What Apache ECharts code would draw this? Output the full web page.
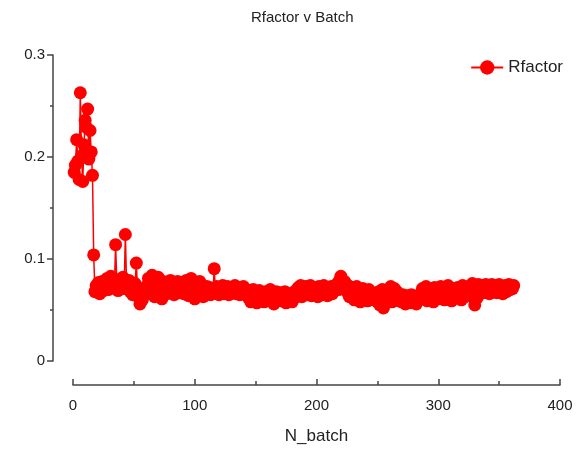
<!DOCTYPE html>
<html>
<head>
<meta charset="utf-8">
<title>Rfactor v Batch</title>
<script src="https://cdn.jsdelivr.net/npm/echarts@6/dist/echarts.min.js"></script>
<style>
  html, body { margin: 0; padding: 0; background: #fff; }
  #chart { width: 578px; height: 450px; }
</style>
</head>
<body>
<div id="chart"></div>
<script>
// R factor per batch, batch 1 onwards
const rfactor = [
  // 1-17: early batches, high and scattered
  0.185, 0.192, 0.217, 0.196, 0.178, 0.263, 0.201, 0.176, 0.212, 0.236,
  0.229, 0.247, 0.198, 0.226, 0.205, 0.182, 0.104,
  // 18-45
  0.068, 0.074, 0.071, 0.077, 0.066, 0.072, 0.078, 0.069, 0.073,
  0.075, 0.081, 0.070, 0.077, 0.083, 0.072, 0.079, 0.074, 0.114, 0.076,
  0.069, 0.080, 0.073, 0.078, 0.082, 0.071, 0.124, 0.077, 0.074,
  // 46-75
  0.079, 0.068, 0.073, 0.065, 0.071, 0.076, 0.096, 0.070, 0.062, 0.056,
  0.064, 0.060, 0.068, 0.072, 0.066,
  0.074, 0.081, 0.068, 0.077, 0.084, 0.071, 0.063, 0.079, 0.073, 0.082,
  0.067, 0.075, 0.061, 0.078, 0.070,
  // 76-107
  0.072, 0.066, 0.077, 0.070, 0.079, 0.068, 0.074, 0.065, 0.076, 0.071,
  0.078, 0.067, 0.073, 0.069, 0.076, 0.066, 0.074,
  0.079, 0.070, 0.064, 0.075, 0.081, 0.068, 0.073, 0.061, 0.077, 0.071,
  0.066, 0.078, 0.069, 0.074, 0.063,
  // 108-142
  0.070, 0.066, 0.073, 0.068, 0.072, 0.065, 0.071, 0.069, 0.0905, 0.067,
  0.073, 0.070, 0.065, 0.072, 0.068, 0.074, 0.066, 0.071, 0.069, 0.073,
  0.065, 0.070, 0.067, 0.072, 0.068, 0.074, 0.066, 0.071, 0.069, 0.065,
  0.072, 0.068, 0.073, 0.066, 0.070,
  // 143-182
  0.067, 0.062, 0.069, 0.058, 0.065, 0.070, 0.061, 0.066, 0.057, 0.064,
  0.069, 0.060, 0.067, 0.063, 0.058, 0.068, 0.062, 0.065, 0.059, 0.070,
  0.061, 0.066, 0.056, 0.064, 0.068, 0.060, 0.063, 0.067,
  0.059, 0.065, 0.061, 0.068, 0.057, 0.063, 0.066, 0.060, 0.064, 0.058,
  0.067, 0.062,
  // 183-224
  0.069, 0.064, 0.072, 0.067, 0.074, 0.063, 0.070, 0.066, 0.073, 0.068,
  0.065, 0.071, 0.074, 0.064, 0.069, 0.072, 0.066, 0.070, 0.063, 0.073,
  0.068, 0.071, 0.065, 0.074, 0.067, 0.070, 0.064, 0.072, 0.068, 0.073,
  0.066, 0.071, 0.069,
  0.072, 0.076, 0.070, 0.079, 0.083, 0.077, 0.073, 0.078, 0.071,
  // 225-268
  0.068, 0.074, 0.063, 0.070, 0.066, 0.072, 0.060, 0.067, 0.073, 0.064,
  0.069, 0.058, 0.066, 0.071, 0.062, 0.068, 0.065, 0.059, 0.070, 0.063,
  0.067, 0.061, 0.066, 0.060,
  0.064, 0.058, 0.068, 0.055, 0.062, 0.070, 0.052, 0.060, 0.057, 0.065,
  0.069, 0.062, 0.073, 0.058, 0.066, 0.071, 0.060, 0.068, 0.063, 0.059,
  // 269-285
  0.063, 0.058, 0.065, 0.061, 0.056, 0.064, 0.060, 0.062, 0.057, 0.065,
  0.059, 0.063, 0.061, 0.056, 0.064, 0.060, 0.062,
  // 286-334
  0.066, 0.071, 0.061, 0.068, 0.073, 0.059, 0.065, 0.070, 0.063, 0.067,
  0.058, 0.072, 0.064, 0.069, 0.061, 0.066, 0.073, 0.062, 0.068, 0.060,
  0.070, 0.065, 0.074, 0.063, 0.067, 0.059, 0.071, 0.066, 0.069, 0.062,
  0.072, 0.065, 0.070, 0.060, 0.074, 0.067, 0.063, 0.071, 0.066, 0.073,
  0.069,
  0.064, 0.076, 0.068, 0.055, 0.072, 0.062, 0.075, 0.067,
  // 335-362
  0.070, 0.074, 0.067, 0.072, 0.075, 0.069, 0.073, 0.066, 0.071, 0.075,
  0.068, 0.072, 0.074, 0.067, 0.070, 0.075, 0.069, 0.073, 0.066, 0.071,
  0.074, 0.068, 0.072, 0.075, 0.070, 0.073, 0.071, 0.074
];

const seriesName = 'Rfactor';
const xTicks = [0, 100, 200, 300, 400];
const yTicks = [0, 0.1, 0.2, 0.3];

// pair each value with its batch number
const points = rfactor.map((v, i) => [i + 1, v]);

const FONT = 'Liberation Sans';
const INK = '#222';
const AXIS = '#444';

const chart = echarts.init(document.getElementById('chart'), null, { renderer: 'canvas' });

chart.setOption({
  animation: false,
  backgroundColor: '#fff',
  title: {
    text: 'Rfactor v Batch',
    left: 246,
    top: 5,
    textStyle: { fontFamily: FONT, fontSize: 15, fontWeight: 'normal', color: INK }
  },
  legend: {
    data: [seriesName],
    right: 10,
    top: 54,
    itemWidth: 32,
    itemHeight: 18,
    itemGap: 8,
    textStyle: { fontFamily: FONT, fontSize: 17, color: INK }
  },
  grid: { left: 73, right: 18, top: 55, bottom: 87, containLabel: false },
  xAxis: {
    type: 'value',
    min: xTicks[0],
    max: xTicks[xTicks.length - 1],
    interval: 100,
    offset: 24,
    name: 'N_batch',
    nameLocation: 'middle',
    nameGap: 43,
    nameTextStyle: { fontFamily: FONT, fontSize: 17, color: INK },
    axisLine: { show: true, onZero: false, lineStyle: { color: AXIS, width: 1.5 } },
    axisTick: { show: true, inside: true, length: 6, lineStyle: { color: AXIS, width: 1.5 } },
    minorTick: { show: true, splitNumber: 2, length: 4, lineStyle: { color: AXIS, width: 1.5 } },
    axisLabel: { fontFamily: FONT, fontSize: 15, color: INK, margin: 13 },
    splitLine: { show: false }
  },
  yAxis: {
    type: 'value',
    min: yTicks[0],
    max: yTicks[yTicks.length - 1],
    interval: 0.1,
    offset: 20,
    axisLine: { show: true, onZero: false, lineStyle: { color: AXIS, width: 1.5 } },
    axisTick: { show: true, inside: false, length: 6, lineStyle: { color: AXIS, width: 1.5 } },
    minorTick: { show: true, splitNumber: 2, length: 3, lineStyle: { color: AXIS, width: 1.5 } },
    axisLabel: {
      fontFamily: FONT, fontSize: 15, color: INK, margin: 8,
      formatter: v => (Math.round(v * 10) / 10).toString()
    },
    splitLine: { show: false }
  },
  series: [{
    name: seriesName,
    type: 'line',
    data: points,
    symbol: 'circle',
    symbolSize: 13,
    showAllSymbol: true,
    itemStyle: { color: '#ff0000' },
    lineStyle: { color: '#ff0000', width: 1.5 }
  }]
});
</script>
</body>
</html>
